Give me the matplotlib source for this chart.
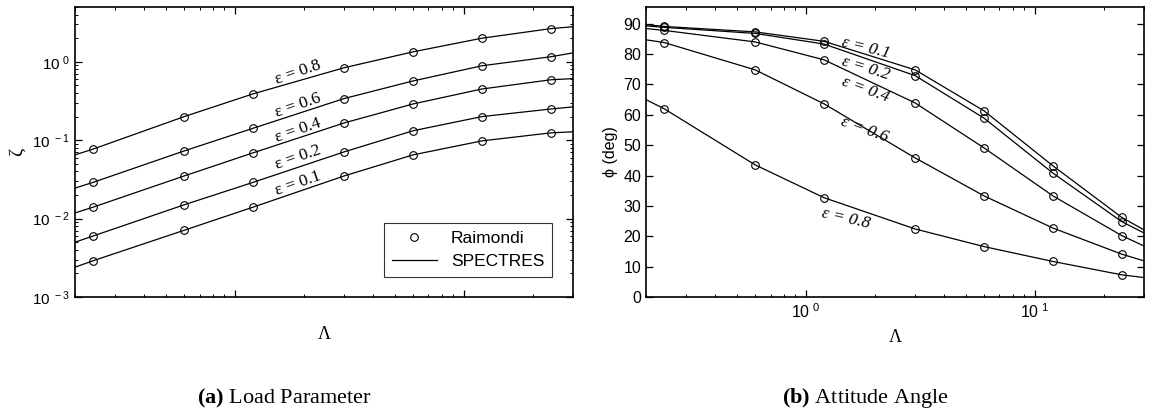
import numpy as np
import matplotlib
matplotlib.use("Agg")
import matplotlib.pyplot as plt
from matplotlib.ticker import FuncFormatter, LogLocator, MultipleLocator

plt.rcParams['font.family'] = ['Liberation Sans', 'DejaVu Sans']
plt.rcParams['mathtext.fontset'] = 'custom'
plt.rcParams['mathtext.rm'] = 'Liberation Serif'
plt.rcParams['mathtext.bf'] = 'Liberation Serif:bold'

# Raimondi points (same Lambda for both panels)
lam_pts = [0.24, 0.6, 1.2, 3.0, 6.0, 12.0, 24.0]
eps_vals = [0.1, 0.2, 0.4, 0.6, 0.8]

# load parameter zeta, one list per eccentricity
zeta_01 = [0.0029, 0.0071, 0.014, 0.035, 0.065, 0.098, 0.124]
zeta_02 = [0.006, 0.015, 0.029, 0.071, 0.132, 0.20, 0.25]
zeta_04 = [0.014, 0.035, 0.069, 0.166, 0.29, 0.45, 0.59]
zeta_06 = [0.029, 0.073, 0.142, 0.34, 0.57, 0.89, 1.16]
zeta_08 = [0.077, 0.20, 0.39, 0.84, 1.34, 2.0, 2.65]

# attitude angle phi (deg)
phi_01 = [89.1, 87.3, 84.2, 74.8, 61.3, 43.2, 26.2]
phi_02 = [88.8, 86.8, 83.3, 72.9, 58.9, 40.8, 24.8]
phi_04 = [87.8, 84.0, 78.1, 63.9, 49.1, 33.3, 20.2]
phi_06 = [83.8, 74.8, 63.6, 45.8, 33.3, 22.7, 14.1]
phi_08 = [62.0, 43.5, 32.7, 22.4, 16.6, 11.7, 7.3]

# SPECTRES curves, read at the plot edges and at the Raimondi points
lam_line = [0.2, 0.24, 0.6, 1.2, 3.0, 6.0, 12.0, 24.0, 30.0]
zeta_line_01 = [0.0024, 0.0029, 0.0071, 0.014, 0.035, 0.065, 0.098, 0.124, 0.128]
zeta_line_02 = [0.005, 0.006, 0.015, 0.029, 0.071, 0.132, 0.20, 0.25, 0.266]
zeta_line_04 = [0.0118, 0.014, 0.035, 0.069, 0.166, 0.29, 0.45, 0.59, 0.61]
zeta_line_06 = [0.0245, 0.029, 0.073, 0.142, 0.34, 0.57, 0.89, 1.16, 1.3]
zeta_line_08 = [0.065, 0.077, 0.20, 0.39, 0.84, 1.34, 2.0, 2.65, 2.8]

phi_line_01 = [89.7, 89.1, 87.3, 84.2, 74.8, 61.3, 43.2, 26.2, 22.1]
phi_line_02 = [89.3, 88.8, 86.8, 83.3, 72.9, 58.9, 40.8, 24.8, 21.1]
phi_line_04 = [88.4, 87.8, 84.0, 78.1, 63.9, 49.1, 33.3, 20.2, 16.8]
phi_line_06 = [84.7, 83.8, 74.8, 63.6, 45.8, 33.3, 22.7, 14.1, 11.9]
phi_line_08 = [65.0, 62.0, 43.5, 32.7, 22.4, 16.6, 11.7, 7.3, 6.4]

zeta_pts = [zeta_01, zeta_02, zeta_04, zeta_06, zeta_08]
zeta_lines = [zeta_line_01, zeta_line_02, zeta_line_04, zeta_line_06, zeta_line_08]
phi_pts = [phi_01, phi_02, phi_04, phi_06, phi_08]
phi_lines = [phi_line_01, phi_line_02, phi_line_04, phi_line_06, phi_line_08]

fig = plt.figure(figsize=(11.49, 4.15), dpi=100)
W, H = 1149, 415
ax1 = fig.add_axes([75 / W, (H - 297) / H, 498 / W, 290 / H])
ax2 = fig.add_axes([646 / W, (H - 297) / H, 498 / W, 290 / H])

mk = dict(marker='o', ls='none', mfc='none', mec='black', ms=5.5, mew=0.8)

for zl, zp in zip(zeta_lines, zeta_pts):
    ax1.plot(lam_line, zl, color='black', lw=0.9)
    ax1.plot(lam_pts, zp, **mk)
for pl, pp in zip(phi_lines, phi_pts):
    ax2.plot(lam_line, pl, color='black', lw=0.9)
    ax2.plot(lam_pts, pp, **mk)


def pow_fmt(v, pos):
    e = int(round(np.log10(v)))
    return r'$\mathregular{10^{\ %d}}$' % e


for ax in (ax1, ax2):
    ax.set_xscale('log')
    ax.set_xlim(0.2, 30)
    ax.tick_params(which='both', direction='in', top=True, right=True,
                   labelsize=11.5)
    ax.tick_params(which='major', length=5, width=0.9)
    ax.tick_params(which='minor', length=2.5, width=0.7)
    for s in ax.spines.values():
        s.set_linewidth(1.2)
    ax.xaxis.set_major_locator(LogLocator(base=10, numticks=10))
    ax.xaxis.set_minor_locator(LogLocator(base=10, subs=np.arange(2, 10), numticks=20))
    ax.set_xlabel('Λ', family='Liberation Serif', fontsize=13, labelpad=6)

ax1.set_yscale('log')
ax1.set_ylim(1e-3, 5)
ax1.yaxis.set_major_locator(LogLocator(base=10, numticks=10))
ax1.yaxis.set_minor_locator(LogLocator(base=10, subs=np.arange(2, 10), numticks=20))
ax1.yaxis.set_major_formatter(FuncFormatter(pow_fmt))
ax1.tick_params(axis='y', labelsize=11)
ax1.tick_params(axis='x', which='both', labelbottom=False)
ax1.set_ylabel('ζ', family='Liberation Serif', fontsize=14, labelpad=4)
ax1.xaxis.labelpad = 21

ax2.set_ylim(0, 95.5)
ax2.yaxis.set_major_locator(MultipleLocator(10))
ax2.xaxis.set_major_formatter(FuncFormatter(pow_fmt))
ax2.set_ylabel('ϕ (deg)', fontsize=11.5, labelpad=4)

# eccentricity labels, left panel
lab_left = [(298, 184), (298, 158), (298, 131), (298, 106), (298, 73)]
for (px, py), e in zip(lab_left, eps_vals):
    xd, yd = ax1.transData.inverted().transform(
        fig.transFigure.transform((px / W, 1 - py / H)))
    ax1.text(xd, yd, 'ε = %.1f' % e, family='Liberation Serif', fontsize=12.5,
             rotation=19, ha='center', va='center')

# eccentricity labels, right panel
lab_right = [(866, 48, -14), (866, 68, -17), (866, 90, -20), (865, 130, -20),
             (846, 219, -13)]
for (px, py, rot), e in zip(lab_right, eps_vals):
    xd, yd = ax2.transData.inverted().transform(
        fig.transFigure.transform((px / W, 1 - py / H)))
    ax2.text(xd, yd, 'ε = %.1f' % e, family='Liberation Serif', style='italic',
             fontsize=12.5, rotation=rot, ha='center', va='center')

# legend
h1, = ax1.plot([], [], **mk, label='Raimondi')
h2, = ax1.plot([], [], color='black', lw=0.9, label='SPECTRES')
leg = ax1.legend(handles=[h1, h2], loc='lower right', fontsize=12.5,
                 frameon=True, fancybox=False, edgecolor='black',
                 bbox_to_anchor=(0.958, 0.069), handlelength=2.6,
                 borderpad=0.45, labelspacing=0.45, borderaxespad=0)
leg.get_frame().set_linewidth(0.8)

fig.text(284 / W, 1 - 398 / H, r'$\mathbf{(a)}$ Load Parameter',
         family='Liberation Serif', fontsize=16, ha='center', va='center')
fig.text(865 / W, 1 - 398 / H, r'$\mathbf{(b)}$ Attitude Angle',
         family='Liberation Serif', fontsize=16, ha='center', va='center')

fig.savefig('out.png', dpi=100)
